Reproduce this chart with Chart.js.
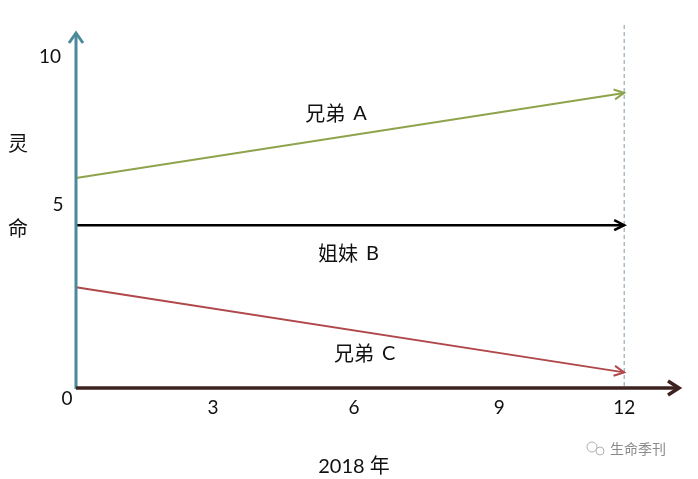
<!DOCTYPE html>
<html>
<head>
<meta charset="utf-8">
<script src="https://cdn.jsdelivr.net/npm/chart.js@4/dist/chart.umd.min.js"></script>
<style>
    html, body { margin: 0; padding: 0; background: #fff; }
    #wrap { width: 698px; height: 479px; }
</style>
</head>
<body>
<div id="wrap"><canvas id="lifeChart" width="698" height="479"></canvas></div>
<script>
// data
const years = [0, 12];
const brotherA = [6.45, 9.06];
const sisterB = [5, 5];
const brotherC = [3.09, 0.48];
const seriesNames = ['兄弟 A', '姐妹 B', '兄弟 C'];
const xTicks = [3, 6, 9, 12];
const yTicks = [0, 5, 10];
const xTitle = '2018 年';
const yTitle = ['灵', '命'];
const watermark = '生命季刊';

const colors = ['#8ea44c', '#000000', '#b0474b'];
const numFont = '19px Lato, "DejaVu Sans", sans-serif';
const cjkFont = '20px "Noto Sans CJK SC", sans-serif';

function pts(ys) {
    return years.map(function(x, i) { return { x: x, y: ys[i] }; });
}

function chevron(ctx, x, y, angle, len, half) {
    ctx.save();
    ctx.translate(x, y);
    ctx.rotate(angle);
    ctx.beginPath();
    ctx.moveTo(-len, -half);
    ctx.lineTo(0, 0);
    ctx.lineTo(-len, half);
    ctx.stroke();
    ctx.restore();
}

// dashed guide at the end year
const guidePlugin = {
    id: 'guide',
    beforeDatasetsDraw: function(chart) {
        const ctx = chart.ctx;
        const xs = chart.scales.x;
        const ys = chart.scales.y;
        const gx = xs.getPixelForValue(years[years.length - 1]);
        ctx.save();
        ctx.strokeStyle = '#7f9ab3';
        ctx.lineWidth = 1;
        ctx.setLineDash([4, 3]);
        ctx.beginPath();
        ctx.moveTo(gx, 25);
        ctx.lineTo(gx, ys.getPixelForValue(0));
        ctx.stroke();
        ctx.restore();
    }
};

// axes, arrows, labels
const decoPlugin = {
    id: 'deco',
    afterDatasetsDraw: function(chart) {
        const ctx = chart.ctx;
        const xs = chart.scales.x;
        const ys = chart.scales.y;
        const x0 = xs.getPixelForValue(0);
        const y0 = ys.getPixelForValue(0);
        const area = chart.chartArea;

        ctx.save();
        ctx.lineCap = 'butt';

        // arrowheads on the series
        chart.data.datasets.forEach(function(ds, i) {
            const meta = chart.getDatasetMeta(i);
            const a = meta.data[meta.data.length - 2];
            const b = meta.data[meta.data.length - 1];
            ctx.strokeStyle = ds.borderColor;
            ctx.lineWidth = ds.borderWidth;
            chevron(ctx, b.x, b.y, Math.atan2(b.y - a.y, b.x - a.x), 10, 5);
        });

        // y axis
        ctx.strokeStyle = '#4b8a99';
        ctx.lineWidth = 3;
        ctx.beginPath();
        ctx.moveTo(x0, y0 + 1);
        ctx.lineTo(x0, area.top);
        ctx.stroke();
        chevron(ctx, x0, area.top, -Math.PI / 2, 10, 7);

        // x axis
        ctx.strokeStyle = '#3d2320';
        ctx.lineWidth = 3.5;
        ctx.beginPath();
        ctx.moveTo(x0, y0);
        ctx.lineTo(area.right, y0);
        ctx.stroke();
        chevron(ctx, area.right, y0, 0, 11, 7);

        // tick labels
        ctx.fillStyle = '#111';
        ctx.font = numFont;
        ctx.textAlign = 'center';
        ctx.textBaseline = 'middle';
        const xOff = [0, 4, 12, 0];
        xTicks.forEach(function(v, i) {
            ctx.fillText(String(v), xs.getPixelForValue(v) + xOff[i], y0 + 20);
        });
        const yOff = [[-9, 11], [-18, -20], [-26, -5]];
        yTicks.forEach(function(v, i) {
            ctx.fillText(String(v), x0 + yOff[i][0], ys.getPixelForValue(v) + yOff[i][1]);
        });

        // axis titles
        ctx.font = '20px Lato, "Noto Sans CJK SC", sans-serif';
        ctx.fillText(xTitle, 354, 467);
        ctx.font = cjkFont;
        ctx.fillText(yTitle[0], 18, 143);
        ctx.fillText(yTitle[1], 18, 228);

        // series names
        const namePos = [[5.72, 8.42], [6.0, 4.14], [6.35, 1.06]];
        ctx.font = cjkFont;
        seriesNames.forEach(function(n, i) {
            const parts = n.split(' ');
            const x = xs.getPixelForValue(namePos[i][0]);
            const y = ys.getPixelForValue(namePos[i][1]);
            ctx.textAlign = 'right';
            ctx.fillText(parts[0], x + 8, y);
            ctx.textAlign = 'left';
            ctx.font = '20px Lato, sans-serif';
            ctx.fillText(parts[1], x + 16, y);
            ctx.font = cjkFont;
        });

        // watermark
        ctx.fillStyle = '#8a8a8a';
        ctx.font = '14px "Noto Sans CJK SC", sans-serif';
        ctx.textAlign = 'left';
        ctx.fillText(watermark, 610, 449);
        ctx.strokeStyle = '#b0b0b0';
        ctx.lineWidth = 1;
        ctx.beginPath();
        ctx.arc(592, 447, 5, 0, Math.PI * 2);
        ctx.stroke();
        ctx.beginPath();
        ctx.arc(600, 451, 4, 0, Math.PI * 2);
        ctx.stroke();

        ctx.restore();
    }
};

new Chart(document.getElementById('lifeChart'), {
    type: 'scatter',
    data: {
        datasets: [
            { label: seriesNames[0], data: pts(brotherA), borderColor: colors[0], borderWidth: 2 },
            { label: seriesNames[1], data: pts(sisterB), borderColor: colors[1], borderWidth: 2.5 },
            { label: seriesNames[2], data: pts(brotherC), borderColor: colors[2], borderWidth: 2 }
        ].map(function(d) {
            d.showLine = true;
            d.pointRadius = 0;
            d.pointHoverRadius = 0;
            d.clip = false;
            return d;
        })
    },
    options: {
        responsive: false,
        animation: false,
        devicePixelRatio: 1,
        layout: { padding: { left: 76, right: 19, top: 33, bottom: 91 } },
        plugins: {
            legend: { display: false },
            tooltip: { enabled: false }
        },
        scales: {
            x: { type: 'linear', min: 0, max: 13.2, display: false },
            y: { type: 'linear', min: 0, max: 10.9, display: false }
        }
    },
    plugins: [guidePlugin, decoPlugin]
});
</script>
</body>
</html>
